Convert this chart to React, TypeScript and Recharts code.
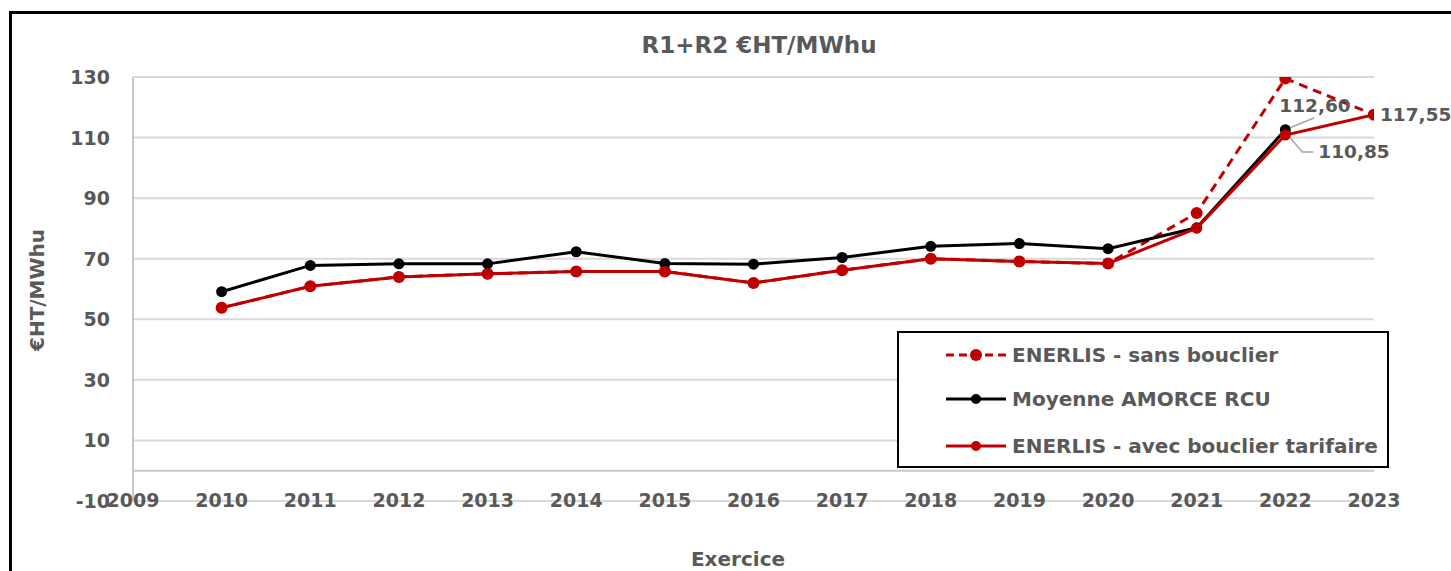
import React from "react";
import {
  LineChart,
  Line,
  XAxis,
  YAxis,
  CartesianGrid,
  ReferenceLine,
  Legend,
} from "recharts";

const years = [2010, 2011, 2012, 2013, 2014, 2015, 2016, 2017, 2018, 2019, 2020, 2021, 2022, 2023];
const sansBouclier = [53.8, 60.9, 64.0, 65.0, 65.8, 65.8, 62.0, 66.2, 70.0, 69.1, 68.4, 85.1, 129.5, 117.55];
const moyenneAmorce: (number | null)[] = [59.1, 67.8, 68.3, 68.3, 72.3, 68.4, 68.2, 70.4, 74.1, 75.0, 73.3, 80.2, 112.6, null];
const avecBouclier = [53.8, 60.9, 64.0, 65.0, 65.8, 65.8, 62.0, 66.2, 70.0, 69.1, 68.4, 80.1, 110.85, 117.55];

const xTicks = [2009, 2010, 2011, 2012, 2013, 2014, 2015, 2016, 2017, 2018, 2019, 2020, 2021, 2022, 2023];
const yTicks = [-10, 10, 30, 50, 70, 90, 110, 130];

const seriesNames = {
  sans: "ENERLIS - sans bouclier",
  moy: "Moyenne AMORCE RCU",
  avec: "ENERLIS - avec bouclier tarifaire",
};

const data = years.map((year, i) => ({
  year,
  sans: sansBouclier[i],
  moy: moyenneAmorce[i],
  avec: avecBouclier[i],
}));

const FONT = "'DejaVu Sans', sans-serif";
const TXT = "#595959";
const RED = "#C00000";
const FS = 20;
const TFS = 19;
const LFS = 18.5;

const fmt = (v: number) => v.toFixed(2).replace(".", ",");

const XTick = (props: any) => {
  const { x, y, payload } = props;
  return (
    <text x={x} y={y - 1} textAnchor="middle" dominantBaseline="central" fill={TXT} fontFamily={FONT} fontWeight={700} fontSize={TFS}>
      {payload.value}
    </text>
  );
};

const YTick = (props: any) => {
  const { x, y, payload } = props;
  return (
    <text x={x} y={y} textAnchor="end" dominantBaseline="central" fill={TXT} fontFamily={FONT} fontWeight={700} fontSize={TFS}>
      {payload.value}
    </text>
  );
};

const moyLabel = (props: any) => {
  const { x, y, value, index } = props;
  if (index !== 12 || value == null) return <g key={`m${index}`} />;
  return (
    <g key={`m${index}`}>
      <path d={`M${x + 5},${y - 2} L${x + 29},${y - 12}`} stroke="#a6a6a6" strokeWidth={1.5} fill="none" />
      <text x={x - 6} y={y - 24} dominantBaseline="central" fill={TXT} fontFamily={FONT} fontWeight={700} fontSize={LFS}>
        {fmt(value)}
      </text>
    </g>
  );
};

const avecLabel = (props: any) => {
  const { x, y, value, index } = props;
  if (index === 12) {
    return (
      <g key={`a${index}`}>
        <path d={`M${x + 5},${y + 3} L${x + 17},${y + 17} L${x + 28},${y + 17}`} stroke="#a6a6a6" strokeWidth={1.5} fill="none" />
        <text x={x + 33} y={y + 17} dominantBaseline="central" fill={TXT} fontFamily={FONT} fontWeight={700} fontSize={LFS}>
          {fmt(value)}
        </text>
      </g>
    );
  }
  if (index === 13) {
    return (
      <text key={`a${index}`} x={x + 6} y={y} dominantBaseline="central" fill={TXT} fontFamily={FONT} fontWeight={700} fontSize={LFS}>
        {fmt(value)}
      </text>
    );
  }
  return <g key={`a${index}`} />;
};

const LegendContent = (props: any) => {
  const { payload } = props;
  const order = ["sans", "moy", "avec"];
  const items = order.map((k) => payload?.find((p: any) => p.dataKey === k)).filter(Boolean);
  return (
    <div
      style={{
        width: 488,
        height: 133,
        border: "2px solid #000",
        background: "#fff",
        boxSizing: "content-box",
        position: "relative",
      }}
    >
      {items.map((p: any, i: number) => {
        const dashed = p.dataKey === "sans";
        const color = p.dataKey === "moy" ? "#000" : RED;
        return (
          <div key={p.dataKey} style={{ position: "absolute", left: 46, top: [8, 52, 99][i], height: 28, display: "flex", alignItems: "center" }}>
            <svg width={62} height={20} style={{ display: "block" }}>
              <line x1={1} y1={10} x2={61} y2={10} stroke={color} strokeWidth={3} strokeDasharray={dashed ? "8 5" : undefined} />
              <circle cx={31} cy={10} r={dashed ? 6 : 5} fill={color} />
            </svg>
            <span style={{ marginLeft: 5, fontFamily: FONT, fontWeight: 700, fontSize: FS, color: TXT, whiteSpace: "nowrap" }}>
              {p.value}
            </span>
          </div>
        );
      })}
    </div>
  );
};

export default function App() {
  return (
    <div style={{ position: "fixed", left: 0, top: 0, width: 1451, height: 571, overflow: "hidden", background: "#fff" }}>
      <div
        style={{
          position: "absolute",
          left: 9,
          top: 11,
          width: 1600,
          height: 700,
          borderLeft: "3px solid #000",
          borderTop: "3px solid #000",
        }}
      />
      <div style={{ position: "absolute", left: 0, top: 0 }}>
        <LineChart width={1451} height={571} data={data} margin={{ top: 77, right: 77, bottom: 40, left: 0 }}>
          <CartesianGrid horizontal vertical={false} stroke="#d9d9d9" strokeWidth={2} />
          <XAxis
            dataKey="year"
            type="number"
            domain={[2009, 2023]}
            ticks={xTicks}
            height={30}
            axisLine={false}
            tickLine={false}
            tickSize={0}
            tickMargin={0}
            tick={<XTick />}
            interval={0}
            allowDataOverflow
          />
          <YAxis
            type="number"
            domain={[-10, 130]}
            ticks={yTicks}
            width={133}
            axisLine={{ stroke: "#c8c8c8", strokeWidth: 2 }}
            tickLine={false}
            tickSize={0}
            tickMargin={23}
            tick={<YTick />}
            interval={0}
            allowDataOverflow
          />
          <ReferenceLine y={0} stroke="#c8c8c8" strokeWidth={2} />
          <Legend
            layout="vertical"
            align="center"
            verticalAlign="middle"
            content={<LegendContent />}
            wrapperStyle={{ position: "absolute", left: 897, top: 331, width: "auto", height: "auto" }}
          />
          <Line
            dataKey="sans"
            name={seriesNames.sans}
            stroke={RED}
            strokeWidth={3}
            strokeDasharray="9 6"
            dot={{ r: 6, fill: RED, stroke: RED, strokeWidth: 0 }}
            isAnimationActive={false}
          />
          <Line
            dataKey="moy"
            name={seriesNames.moy}
            stroke="#000"
            strokeWidth={3}
            dot={{ r: 5.5, fill: "#000", stroke: "#000", strokeWidth: 0 }}
            label={moyLabel}
            isAnimationActive={false}
          />
          <Line
            dataKey="avec"
            name={seriesNames.avec}
            stroke={RED}
            strokeWidth={3}
            dot={{ r: 5.5, fill: RED, stroke: RED, strokeWidth: 0 }}
            label={avecLabel}
            isAnimationActive={false}
          />
        </LineChart>
      </div>
      <div style={{ position: "absolute", left: 0, width: 1518, top: 31, textAlign: "center", fontFamily: FONT, fontWeight: 700, fontSize: 23, color: TXT, lineHeight: "28px", whiteSpace: "nowrap" }}>
        R1+R2 €HT/MWhu
      </div>
      <div
        style={{
          position: "absolute",
          left: 37,
          top: 290,
          transform: "translate(-50%, -50%) rotate(-90deg)",
          fontFamily: FONT,
          fontWeight: 700,
          fontSize: FS,
          color: TXT,
          whiteSpace: "nowrap",
          lineHeight: "24px",
        }}
      >
        €HT/MWhu
      </div>
      <div style={{ position: "absolute", left: 0, width: 1476, top: 547, textAlign: "center", fontFamily: FONT, fontWeight: 700, fontSize: FS, color: TXT, lineHeight: "24px", whiteSpace: "nowrap" }}>
        Exercice
      </div>
    </div>
  );
}
